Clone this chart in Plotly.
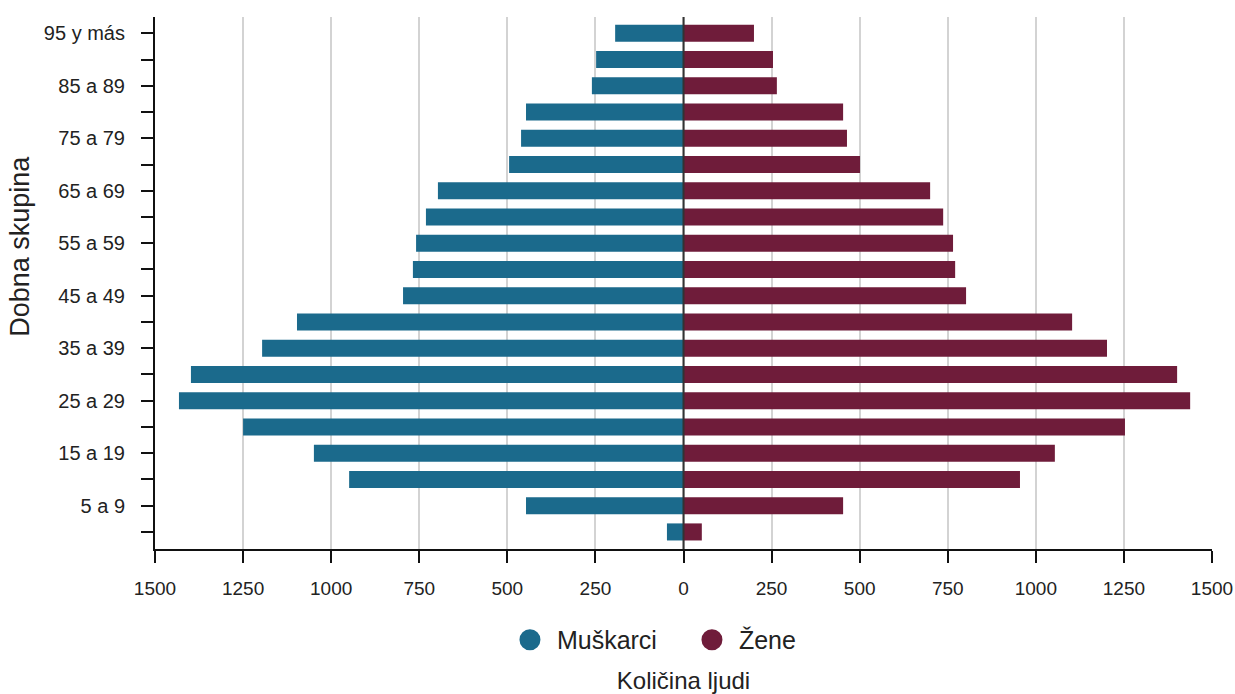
import plotly.graph_objects as go

age_groups = ["0 a 4", "5 a 9", "10 a 14", "15 a 19", "20 a 24", "25 a 29", "30 a 34",
              "35 a 39", "40 a 44", "45 a 49", "50 a 54", "55 a 59", "60 a 64", "65 a 69",
              "70 a 74", "75 a 79", "80 a 84", "85 a 89", "90 a 94", "95 y más"]
men = [47, 447, 949, 1049, 1250, 1432, 1398, 1196, 1097, 796, 768, 759, 731, 697,
       495, 461, 447, 260, 248, 194]
women = [52, 453, 955, 1054, 1253, 1438, 1401, 1202, 1103, 802, 771, 765, 737, 700,
         501, 464, 453, 265, 254, 200]
x_ticks = [-1500, -1250, -1000, -750, -500, -250, 0, 250, 500, 750, 1000, 1250, 1500]

male_color = "#1b6a8c"
female_color = "#6f1c3a"

y_idx = list(range(len(age_groups)))
y_text = [g if i % 2 == 1 else "" for i, g in enumerate(age_groups)]

fig = go.Figure()
fig.add_trace(go.Bar(y=y_idx, x=[-v for v in men], orientation="h", name="Muškarci",
                     marker=dict(color=male_color, line=dict(width=0)), width=0.65,
                     showlegend=False, customdata=men,
                     hovertemplate="%{customdata}<extra>Muškarci</extra>"))
fig.add_trace(go.Bar(y=y_idx, x=women, orientation="h", name="Žene",
                     marker=dict(color=female_color, line=dict(width=0)), width=0.65,
                     showlegend=False, hovertemplate="%{x}<extra>Žene</extra>"))
# legend entries with circle symbols
fig.add_trace(go.Scatter(x=[None], y=[None], mode="markers", name=" Muškarci",
                         marker=dict(symbol="circle", size=18, color=male_color,
                                     line=dict(color=male_color, width=5))))
fig.add_trace(go.Scatter(x=[None], y=[None], mode="markers", name=" Žene",
                         marker=dict(symbol="circle", size=18, color=female_color,
                                     line=dict(color=female_color, width=5))))

fig.add_shape(type="line", xref="x", yref="paper", x0=0, x1=0, y0=0, y1=1,
              line=dict(color="#333333", width=2), layer="above")

fig.add_annotation(text="Dobna skupina", textangle=-90, xref="paper", yref="paper",
                   x=-0.1277, y=0.568, xanchor="center", yanchor="middle",
                   showarrow=False, font=dict(size=27))

fig.update_layout(
    width=1235, height=694,
    margin=dict(l=155, r=23, t=17, b=145),
    barmode="overlay",
    plot_bgcolor="white", paper_bgcolor="white",
    font=dict(family="Liberation Sans, Arial, sans-serif", size=18, color="#222222"),
    legend=dict(orientation="h", x=0.508, xanchor="center", y=-0.171, yanchor="middle",
                font=dict(size=25), itemsizing="trace", traceorder="normal",
                entrywidth=137),
    xaxis=dict(
        range=[-1500, 1500], tickvals=x_ticks, ticktext=[str(abs(v)) for v in x_ticks],
        showgrid=True, gridcolor="#d3d3d3", gridwidth=2, zeroline=False,
        showline=True, linecolor="#111111", linewidth=2,
        ticks="outside", ticklen=12, tickwidth=2, tickcolor="#111111",
        tickfont=dict(size=19), ticklabelstandoff=9,
        title=dict(text="Količina ljudi", font=dict(size=24), standoff=92),
        automargin=False,
    ),
    yaxis=dict(
        range=[-0.65, 19.62], tickvals=y_idx, ticktext=y_text,
        showgrid=False, zeroline=False,
        showline=True, linecolor="#111111", linewidth=2,
        ticks="outside", ticklen=12, tickwidth=2, tickcolor="#111111",
        tickfont=dict(size=20), ticklabelstandoff=12,
        automargin=False,
    ),
)

fig.write_html("out.html", config={"displayModeBar": False},
               post_script="document.body.style.margin='0';")
